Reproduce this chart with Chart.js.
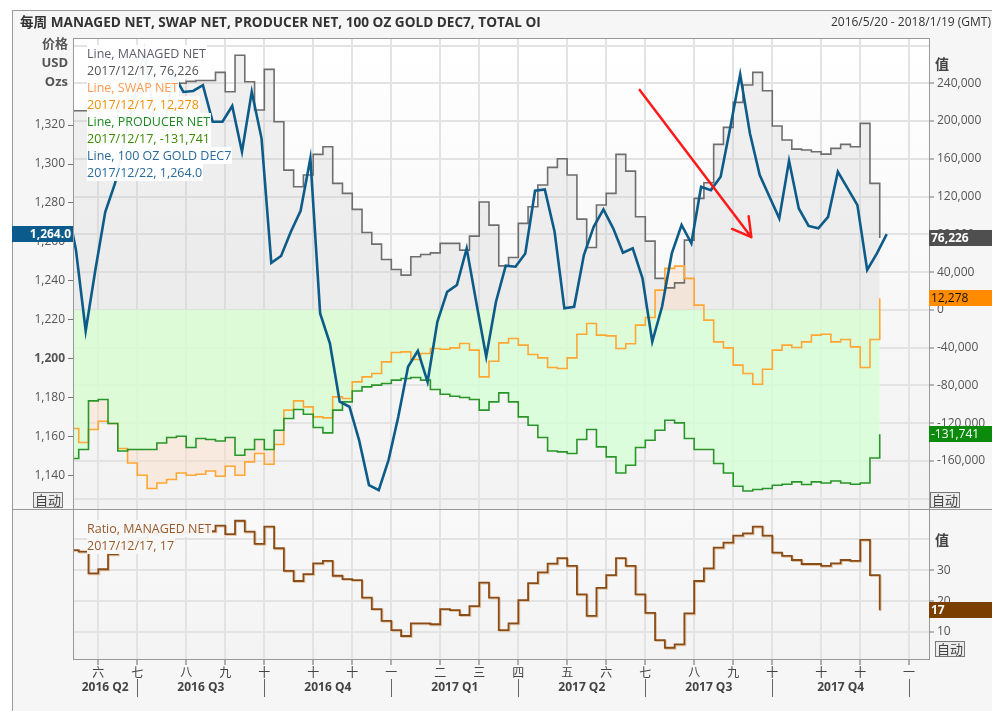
<!DOCTYPE html>
<html>
<head>
<meta charset="utf-8">
<title>MANAGED NET, SWAP NET, PRODUCER NET</title>
<script src="https://cdn.jsdelivr.net/npm/chart.js@4.4.0/dist/chart.umd.min.js"></script>
<style>
  body { margin:0; background:#fff; }
  #wrap { position:relative; width:992px; height:711px; overflow:hidden; background:#fff;
          font-family:"Open Sans","Noto Sans CJK SC",sans-serif; color:#333; }
  #frame { position:absolute; left:12px; top:10px; width:990px; height:710px; background:#f6f6f6;
           border-left:1px solid #999; border-top:1px solid #999; }
  canvas { position:absolute; left:0; }
  #top { top:0; }
  #bot { top:509px; }
  .t { position:absolute; white-space:nowrap; line-height:17px; }
  .b { font-weight:bold; }
  .auto { position:absolute; font-size:13px; line-height:14px; padding:0 1px; border:1px solid #777; background:#ececec; color:#444; }
  .row { position:absolute; left:87px; height:17px; line-height:17px; font-size:12.5px; padding-right:1px; white-space:nowrap; }
  .hr { position:absolute; left:12px; width:980px; height:1px; background:#999; }
</style>
</head>
<body>
<div id="wrap">
  <div id="frame"></div>
  <canvas id="top" width="992" height="510"></canvas>
  <canvas id="bot" width="992" height="202"></canvas>
  <div class="hr" style="top:509px"></div>

  <div class="t b" style="left:20px;top:13px;font-size:13.6px;color:#333">每周 MANAGED NET, SWAP NET, PRODUCER NET, 100 OZ GOLD DEC7, TOTAL OI</div>
  <div class="t" style="right:1px;top:13px;font-size:12px;color:#333">2016/5/20 - 2018/1/19 (GMT)</div>

  <div class="t b" style="right:924px;top:35px;font-size:13px;color:#555">价格</div>
  <div class="t b" style="right:924px;top:54px;font-size:13px;color:#555">USD</div>
  <div class="t b" style="right:924px;top:73px;font-size:13px;color:#555">Ozs</div>
  <div class="t b" style="left:935px;top:55px;font-size:14px;color:#444">值</div>
  <div class="t b" style="left:935px;top:531px;font-size:14px;color:#444">值</div>

  <div class="auto" style="left:33px;top:492px">自动</div>
  <div class="auto" style="left:930px;top:492px">自动</div>
  <div class="auto" style="left:935px;top:641px">自动</div>

  <div id="legendTop"></div>
  <div id="legendBot"></div>
</div>

<script>
// weekly series: COT numbers dated on Sundays, gold future on Fridays
const cotStart = '2016-05-15';
const priceStart = '2016-05-13';

const managedNet = [211000,211000,168000,176000,204000,215000,225000,230000,238000,242000,
  246000,240000,242000,243000,243000,251600,231000,269700,241700,211700,
  254800,199300,148000,130400,142800,164700,172800,134000,123400,106400,
  82000,69600,53400,42800,36800,56200,58700,60400,70400,70400,
  63300,78100,114200,89800,46600,55500,91600,109200,132200,150900,
  160100,142800,96100,66100,111000,123400,164700,147000,98600,72800,
  33300,23300,28600,73900,118100,134600,175300,193300,219800,238200,
  251600,232100,194700,179900,170300,169300,167500,165000,171100,175300,
  172800,197600,134000,76226];

const swapNet = [-125700,-140600,-126800,-118000,-120400,-146900,-162200,-175200,-189300,-183400,
  -179800,-172800,-175200,-174200,-170700,-176300,-165700,-175200,-161100,-152200,
  -163600,-142700,-106300,-96500,-102800,-113400,-114500,-92200,-93900,-76300,
  -71000,-67400,-55100,-45200,-44500,-52600,-46200,-40900,-41700,-40300,
  -35600,-42700,-71000,-54400,-35000,-30300,-37400,-47300,-50900,-61100,
  -62100,-50900,-25800,-14400,-26800,-27600,-40900,-36000,-16200,-8100,
  20900,43900,46300,33300,5000,-10900,-33900,-40300,-58600,-67400,
  -78800,-62900,-42700,-37400,-39900,-33900,-26800,-25800,-33900,-31400,
  -39200,-61100,-31400,12278];

const producerNet = [-157500,-148000,-96500,-95000,-120400,-149500,-148000,-148000,-148000,-141000,
  -135300,-133900,-145900,-136300,-137400,-138900,-135300,-154000,-148000,-137400,
  -148000,-127500,-115100,-105600,-110600,-124700,-130400,-106300,-97500,-86000,
  -81600,-79800,-78000,-74500,-72700,-71700,-74500,-84400,-89400,-91500,
  -92900,-95000,-106300,-97500,-88000,-97500,-113400,-122200,-135300,-149500,
  -150500,-152200,-137400,-126800,-145200,-155800,-172800,-164600,-145900,-138100,
  -127500,-116900,-119800,-136300,-148000,-148000,-162800,-172800,-186900,-191900,
  -190400,-189300,-185800,-184800,-182300,-185100,-182300,-183400,-181300,-183400,
  -184800,-183400,-156900,-131741];

const managedRatio = [36.5,36,29,30.3,35.1,37.5,39.5,40.4,41.8,42.5,
  43.2,42.1,42.5,42.6,42.6,44.4,41.7,46,42.5,38.5,
  44.1,37.1,29.8,26.5,28.7,32.2,33,28.2,27.1,26.8,
  21.1,17.4,13.6,10.6,8.7,12.8,12.8,12.5,17.4,17.1,
  15.5,18.4,26,21.1,10.6,12.8,20.3,25.8,29.3,32.1,
  33.9,31.4,22.2,15.2,24.3,28.4,33.9,31.4,22.2,16.2,
  7.4,4.9,6,16,26.5,30.6,37.3,38.9,41.2,41.9,
  44.1,41.2,35.7,34.6,33.3,32,32,31.4,32.2,33.3,
  33,39.8,28.4,17];

const goldPrice = [1281,1256,1214.4,1246,1275.3,1290,1313,1335,1358,1325,
  1318,1346,1337,1337.5,1340.5,1321.7,1321.7,1329.8,1306.3,1337.1,
  1313.2,1249.3,1252.8,1265.2,1276,1302.9,1223.3,1207.9,1178,1175.4,
  1158,1135.2,1132.6,1148,1170.3,1195.9,1204.1,1188.2,1219,1234.4,
  1237.9,1256.7,1228.5,1201.1,1229.3,1247.8,1247.3,1254.1,1286.3,1287,
  1265.2,1225.9,1226.7,1253.3,1267.8,1276.7,1267,1254.5,1256.7,1241.3,
  1208.8,1226.7,1254.1,1268.7,1259.3,1288.3,1286.6,1293.5,1319.1,1346,
  1315.7,1294.3,1283.2,1272.1,1301.7,1277.2,1268.2,1267,1272.9,1296,
  1287.5,1278.9,1245.6,1254.1,1264];

const monthTickDates = ['2016-06-05','2016-07-03','2016-08-07','2016-09-04','2016-10-02','2016-11-06','2016-12-04',
  '2017-01-01','2017-02-05','2017-03-05','2017-04-02','2017-05-07','2017-06-04','2017-07-02','2017-08-06',
  '2017-09-03','2017-10-01','2017-11-05','2017-12-03','2018-01-07'];
const monthTickLabels = ['六','七','八','九','十','十','十','一','二','三','四','五','六','七','八','九','十','十','十','一'];
const quarterEnds = ['2016-07-03','2016-10-02','2017-01-01','2017-04-02','2017-07-02','2017-10-01','2018-01-07'];
const quarterLabels = ['2016 Q2','2016 Q3','2016 Q4','2017 Q1','2017 Q2','2017 Q3','2017 Q4'];

const priceTicks = [1140,1160,1180,1200,1220,1240,1260,1280,1300,1320];
const valueTicks = [-200000,-160000,-120000,-80000,-40000,0,40000,80000,120000,160000,200000,240000,280000];
const ratioTicks = [10,20,30,40];

// red arrow drawn on the chart: [date, value on right axis]
const arrowFrom = ['2017-06-28', 233000];
const arrowTo = ['2017-09-16', 77000];

const FONT = '"Open Sans","Noto Sans CJK SC",sans-serif';
const ORIGIN = Date.UTC(2016, 5, 5);
const X_MIN = -18.1, X_MAX = 595.3;

function day(s) {
  const p = s.split('-');
  return (Date.UTC(+p[0], p[1] - 1, +p[2]) - ORIGIN) / 864e5;
}
function weeks(start, n) { return Array.from({length: n}, (_, i) => day(start) + 7 * i); }
function dateLabel(d) {
  const t = new Date(ORIGIN + d * 864e5);
  return t.getUTCFullYear() + '/' + (t.getUTCMonth() + 1) + '/' + t.getUTCDate();
}
function xy(xs, ys) { return ys.map((v, i) => ({x: xs[i], y: v})); }
const fmt = v => v.toLocaleString('en-US');
const last = a => a[a.length - 1];

const cotX = weeks(cotStart, managedNet.length);
const priceX = weeks(priceStart, goldPrice.length);

// legends
function rows(el, list, top, bg) {
  list.forEach((r, i) => {
    const d = document.createElement('div');
    d.className = 'row';
    d.style.top = (top + 17 * i) + 'px';
    d.style.color = r[1];
    d.style.background = bg;
    d.textContent = r[0];
    el.appendChild(d);
  });
}
const cotDay = dateLabel(last(cotX));
rows(document.getElementById('legendTop'), [
  ['Line, MANAGED NET', '#5d5d6d'],
  [cotDay + ', ' + fmt(last(managedNet)), '#555'],
  ['Line, SWAP NET', '#ff9a50'],
  [cotDay + ', ' + fmt(last(swapNet)), '#f29000'],
  ['Line, PRODUCER NET', '#1f8a1f'],
  [cotDay + ', ' + fmt(last(producerNet)), '#3a8a00'],
  ['Line, 100 OZ GOLD DEC7', '#2a6a9c'],
  [dateLabel(last(priceX)) + ', ' + last(goldPrice).toLocaleString('en-US', {minimumFractionDigits: 1}), '#2a6a9c']
], 45, 'rgba(255,255,255,0.95)');
rows(document.getElementById('legendBot'), [
  ['Ratio, MANAGED NET', '#9a5a2a'],
  [cotDay + ', ' + fmt(last(managedRatio)), '#9a5a2a']
], 520, 'rgba(248,248,248,0.95)');

function tag(ctx, x, y, w, bg, fg, text, bold, right) {
  ctx.fillStyle = bg;
  ctx.fillRect(x, Math.round(y - 8), w, 16);
  ctx.fillStyle = fg;
  ctx.font = (bold ? 'bold ' : '') + '12px ' + FONT;
  ctx.textBaseline = 'middle';
  ctx.textAlign = right ? 'right' : 'left';
  ctx.fillText(text, right ? x + w - 2 : x + 2, Math.round(y) + 0.5);
}

function plotBg(c0, c1) {
  return {
    id: 'plotBg',
    beforeDraw(chart) {
      const {ctx, chartArea: a} = chart;
      const g = ctx.createLinearGradient(0, a.top, 0, a.bottom);
      g.addColorStop(0, c0);
      g.addColorStop(1, c1);
      ctx.fillStyle = g;
      ctx.fillRect(a.left, a.top, a.right - a.left, a.bottom - a.top);
    }
  };
}

const monthAxis = {
  type: 'linear', min: X_MIN, max: X_MAX,
  afterBuildTicks: s => { s.ticks = monthTickDates.map(d => ({value: day(d)})); },
  border: {display: false}
};

// ---------- top panel ----------
const topCtx = document.getElementById('top').getContext('2d');

const topOverlay = {
  id: 'topOverlay',
  afterDraw(chart) {
    const {ctx, chartArea: a, scales} = chart;
    ctx.save();
    ctx.strokeStyle = '#999';
    ctx.lineWidth = 1;
    ctx.strokeRect(a.left + 0.5, a.top + 0.5, a.right - a.left, a.bottom - a.top);

    // arrow
    const x0 = scales.x.getPixelForValue(day(arrowFrom[0])), y0 = scales.yV.getPixelForValue(arrowFrom[1]);
    const x1 = scales.x.getPixelForValue(day(arrowTo[0])), y1 = scales.yV.getPixelForValue(arrowTo[1]);
    const ang = Math.atan2(y1 - y0, x1 - x0);
    ctx.strokeStyle = '#ff1a1a';
    ctx.lineWidth = 2.5;
    ctx.lineCap = 'round';
    ctx.beginPath();
    ctx.moveTo(x0, y0);
    ctx.lineTo(x1, y1);
    [-1, 1].forEach(s => {
      const a2 = ang + Math.PI + s * 0.52;
      ctx.moveTo(x1, y1);
      ctx.lineTo(x1 + 21 * Math.cos(a2), y1 + 21 * Math.sin(a2));
    });
    ctx.stroke();

    tag(ctx, a.right, scales.yV.getPixelForValue(last(managedNet)), 63, '#4f4f4f', '#fff', fmt(last(managedNet)), true);
    tag(ctx, a.right, scales.yV.getPixelForValue(last(swapNet)), 63, '#ff8c00', '#111', fmt(last(swapNet)), false);
    tag(ctx, a.right, scales.yV.getPixelForValue(last(producerNet)), 63, '#0b8a0b', '#fff', fmt(last(producerNet)), false);
    tag(ctx, 12, scales.yP.getPixelForValue(last(goldPrice)), 61, '#0b5b8c', '#fff',
        last(goldPrice).toLocaleString('en-US', {minimumFractionDigits: 1}), true, true);
    ctx.restore();
  }
};

new Chart(topCtx, {
  type: 'line',
  data: {
    datasets: [
      {label: '100 OZ GOLD DEC7', data: xy(priceX, goldPrice), yAxisID: 'yP', borderColor: '#0d5b88',
       borderWidth: 2.6, pointRadius: 0, fill: false, order: 1},
      {label: 'PRODUCER NET', data: xy(cotX, producerNet), yAxisID: 'yV', stepped: true, borderColor: '#2a962a',
       borderWidth: 1.6, pointRadius: 0, fill: 'origin', backgroundColor: 'rgba(212,255,212,0.78)', order: 2},
      {label: 'SWAP NET', data: xy(cotX, swapNet), yAxisID: 'yV', stepped: true, borderColor: '#ffa633',
       borderWidth: 1.6, pointRadius: 0, fill: 'origin', backgroundColor: 'rgba(255,214,180,0.35)', order: 3},
      {label: 'MANAGED NET', data: xy(cotX, managedNet), yAxisID: 'yV', stepped: true, borderColor: '#6e6e6e',
       borderWidth: 1.6, pointRadius: 0, fill: 'origin', backgroundColor: 'rgba(205,205,205,0.27)', order: 4}
    ]
  },
  options: {
    responsive: false, animation: false, devicePixelRatio: 1, events: [],
    layout: {padding: {top: 38, bottom: 1, left: 0, right: 0}},
    plugins: {legend: {display: false}, tooltip: {enabled: false}, filler: {drawTime: 'beforeDatasetsDraw'}},
    scales: {
      x: Object.assign({}, monthAxis, {
        ticks: {display: false},
        grid: {color: '#e3e3e3', lineWidth: 2, drawTicks: false},
        afterFit: s => { s.height = 0; s.paddingLeft = s.paddingRight = 0; }
      }),
      yP: {
        position: 'left', min: 1122.9, max: 1364.7,
        afterBuildTicks: s => { s.ticks = priceTicks.map(v => ({value: v})); },
        grid: {drawOnChartArea: false, tickLength: 5, tickColor: '#777', tickWidth: 1},
        border: {display: false},
        ticks: {
          padding: 3, color: '#555',
          font: c => ({family: FONT, size: 12, weight: c.tick && c.tick.value === 1200 ? 'bold' : 'normal'}),
          callback: v => fmt(v)
        },
        afterFit: s => { s.width = 73; s.paddingTop = s.paddingBottom = 0; }
      },
      yV: {
        position: 'right', min: -211000, max: 288000,
        afterBuildTicks: s => { s.ticks = valueTicks.map(v => ({value: v})); },
        grid: {color: '#e3e3e3', lineWidth: 2, tickLength: 5, tickWidth: 1,
               tickColor: c => (c.tick && (c.tick.value < -160000 || c.tick.value > 240000)) ? 'rgba(0,0,0,0)' : '#777'},
        border: {display: false},
        ticks: {padding: 3, color: '#555', font: {family: FONT, size: 12},
                callback: v => (v >= -160000 && v <= 240000) ? fmt(v) : ''},
        afterFit: s => { s.width = 63; s.paddingTop = s.paddingBottom = 0; }
      }
    }
  },
  plugins: [plotBg('#ffffff', '#f2f2f2'), topOverlay]
});

// ---------- lower panel ----------
const botOverlay = {
  id: 'botOverlay',
  beforeDatasetsDraw(chart) {
    const ctx = chart.ctx;
    ctx.save();
    ctx.shadowColor = 'rgba(205,160,110,0.55)';
    ctx.shadowOffsetX = 1;
    ctx.shadowOffsetY = 1;
  },
  afterDatasetsDraw(chart) { chart.ctx.restore(); },
  afterDraw(chart) {
    const {ctx, chartArea: a, scales} = chart;
    ctx.save();
    ctx.strokeStyle = '#999';
    ctx.lineWidth = 1;
    ctx.strokeRect(a.left + 0.5, a.top + 0.5, a.right - a.left, a.bottom - a.top);

    // quarter row
    ctx.font = 'bold 12px ' + FONT;
    ctx.fillStyle = '#444';
    ctx.textAlign = 'center';
    ctx.textBaseline = 'middle';
    ctx.strokeStyle = '#666';
    let prev = a.left;
    quarterEnds.forEach((d, i) => {
      const px = scales.x.getPixelForValue(day(d));
      ctx.fillText(quarterLabels[i], (prev + px) / 2, a.bottom + 29);
      ctx.beginPath();
      ctx.moveTo(Math.round(px) + 0.5, a.bottom + 20);
      ctx.lineTo(Math.round(px) + 0.5, a.bottom + 38);
      ctx.stroke();
      prev = px;
    });

    tag(ctx, a.right, scales.yR.getPixelForValue(last(managedRatio)), 63, '#7b3f00', '#fff', fmt(last(managedRatio)), true);
    ctx.restore();
  }
};

new Chart(document.getElementById('bot'), {
  type: 'line',
  data: {
    datasets: [
      {label: 'MANAGED NET', data: xy(cotX, managedRatio), yAxisID: 'yR', stepped: true, borderColor: '#8a4c16',
       borderWidth: 1.8, pointRadius: 0, fill: false}
    ]
  },
  options: {
    responsive: false, animation: false, devicePixelRatio: 1, events: [],
    layout: {padding: {top: 0, bottom: 0, left: 73, right: 0}},
    plugins: {legend: {display: false}, tooltip: {enabled: false}},
    scales: {
      x: Object.assign({}, monthAxis, {
        ticks: {autoSkip: false, maxRotation: 0, padding: 1, color: '#444', font: {family: FONT, size: 12},
                callback: (v, i) => monthTickLabels[i]},
        grid: {color: '#e3e3e3', lineWidth: 2, tickLength: 6, tickColor: '#666', tickWidth: 1},
        afterFit: s => { s.height = 52; s.paddingLeft = s.paddingRight = 0; }
      }),
      yR: {
        position: 'right', min: 1.26, max: 49.8,
        afterBuildTicks: s => { s.ticks = ratioTicks.map(v => ({value: v})); },
        grid: {color: '#e3e3e3', lineWidth: 2, tickLength: 5, tickWidth: 1,
               tickColor: c => (c.tick && c.tick.value === 40) ? 'rgba(0,0,0,0)' : '#777'},
        border: {display: false},
        ticks: {padding: 3, color: '#555', font: {family: FONT, size: 12}, callback: v => v === 40 ? '' : v},
        afterFit: s => { s.width = 63; s.paddingTop = s.paddingBottom = 0; }
      }
    }
  },
  plugins: [plotBg('#f9f9f9', '#f3f3f3'), botOverlay]
});
</script>
</body>
</html>
